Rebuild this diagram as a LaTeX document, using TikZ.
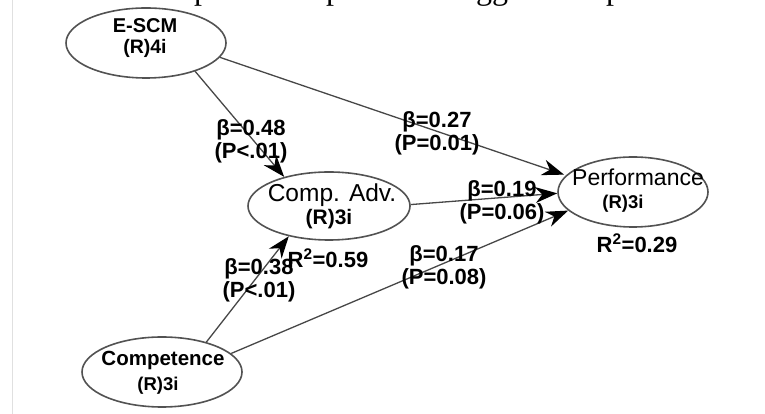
\documentclass[tikz,border=0pt]{standalone}
\usepackage{fontspec}
\setmainfont{Liberation Sans}
\newfontfamily\capfont{Liberation Serif}
\usetikzlibrary{arrows.meta,shapes.geometric}
\begin{document}
\begin{tikzpicture}[x=1pt,y=1pt,
  latent/.style={ellipse, draw=black!68, line width=1.6pt, inner sep=0pt},
  link/.style={draw=black!72, line width=1.3pt,
    -{Stealth[length=22pt,width=16pt,inset=7pt,color=black]}},
  ind/.style={anchor=base, inner sep=0pt},
  coef/.style={inner sep=0pt, align=center,
    font=\bfseries\fontsize{22}{23}\selectfont},
  frag/.style={anchor=base, inner sep=0pt, font=\capfont\fontsize{32}{32}\selectfont}
]
\useasboundingbox (0,0) rectangle (765,414);

% faint frame edge on the left
\draw[black!12, line width=0.8pt] (12,0) -- (12,414);

% descenders of the caption line above the figure
\node[frag] (c1) at (202,414) {p};
\node[frag] (c2) at (334,414) {p};
\node[frag] (c3) at (492,414) {gg};
\node[frag] (c4) at (614,414) {p};

% latent variables
\node[latent, minimum width=160pt, minimum height=70pt] (escm) at (146,371) {};
\node[latent, minimum width=162pt, minimum height=68pt] (ca)   at (329,208) {};
\node[latent, minimum width=150pt, minimum height=70pt] (perf) at (633,222) {};
\node[latent, minimum width=160pt, minimum height=70pt] (comp) at (162,42)  {};

% variable names and indicator counts (placed by baseline)
\node[ind, font=\bfseries\fontsize{20}{20}\selectfont] (escmT) at (145,381) {E-SCM};
\node[ind, font=\bfseries\fontsize{19.5}{20}\selectfont] (escmI) at (145,360) {(R)4i};
\node[ind, font=\fontsize{24.5}{25}\selectfont] (caT) at (332,212) {Comp. Adv.};
\node[ind, font=\bfseries\fontsize{21}{21}\selectfont] (caI) at (329,189) {(R)3i};
\node[ind, font=\fontsize{23}{23}\selectfont] (perfT) at (638,228) {Performance};
\node[ind, font=\bfseries\fontsize{18.5}{19}\selectfont] (perfI) at (623,205) {(R)3i};
\node[ind, font=\bfseries\fontsize{20.5}{21}\selectfont] (compT) at (163,48) {Competence};
\node[ind, font=\bfseries\fontsize{18.5}{19}\selectfont] (compI) at (158,23) {(R)3i};

% structural paths
\draw[link] (escm.-30) -- (ca.147);
\draw[link, shorten >=2pt] (escm.-11) -- (perf.166);
\draw[link] (ca.1) -- (perf.181);
\draw[link] (comp.15) -- (perf.196);
\draw[link] (comp.34) -- (ca.217);

% path coefficients and explained variance
\node[coef] (b1) at (251,272.5) {β=0.48\\(P<.01)};
\node[coef] (b2) at (437,280.5) {β=0.27\\(P=0.01)};
\node[coef] (b3) at (502,211.5) {β=0.19\\(P=0.06)};
\node[coef] (b4) at (444,146.5) {β=0.17\\(P=0.08)};
\node[coef] (b5) at (259,133.5) {β=0.38\\(P<.01)};
\node[coef] (r1) at (328,156) {R\textsuperscript{2}=0.59};
\node[coef] (r2) at (637,171) {R\textsuperscript{2}=0.29};
\end{tikzpicture}
\end{document}
